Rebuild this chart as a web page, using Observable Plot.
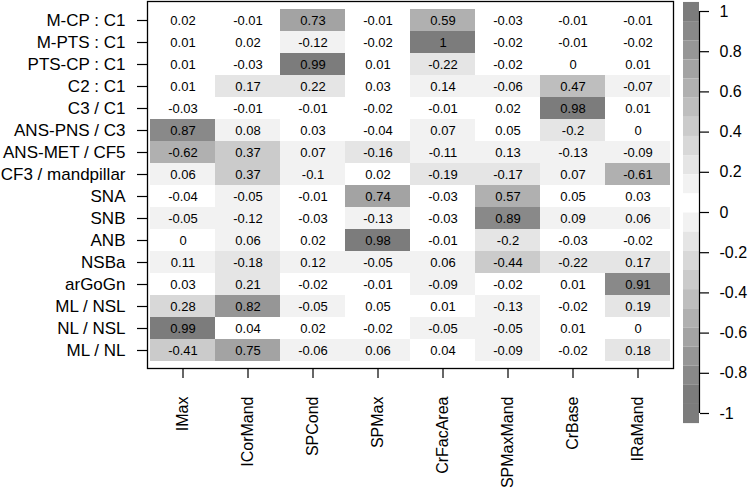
<!DOCTYPE html>
<html>
<head>
<meta charset="utf-8">
<script src="https://cdn.jsdelivr.net/npm/d3@7"></script>
<script src="https://cdn.jsdelivr.net/npm/@observablehq/plot@0.6"></script>
<style>
  html, body { margin: 0; padding: 0; background: white; }
  #wrap { position: relative; width: 749px; height: 488px; overflow: hidden; }
  #legend { position: absolute; left: 683px; top: 0px; }
  #main { position: absolute; left: 0; top: 0; }
</style>
</head>
<body>
<div id="wrap"><div id="main"></div><div id="legend"></div></div>
<script>
// ---- data ----
const rows = ["M-CP : C1", "M-PTS : C1", "PTS-CP : C1", "C2 : C1", "C3 / C1", "ANS-PNS / C3",
  "ANS-MET / CF5", "CF3 / mandpillar", "SNA", "SNB", "ANB", "NSBa", "arGoGn", "ML / NSL", "NL / NSL", "ML / NL"];
const cols = ["IMax", "ICorMand", "SPCond", "SPMax", "CrFacArea", "SPMaxMand", "CrBase", "IRaMand"];

const IMax      = [0.02, 0.01, 0.01, 0.01, -0.03, 0.87, -0.62, 0.06, -0.04, -0.05, 0, 0.11, 0.03, 0.28, 0.99, -0.41];
const ICorMand  = [-0.01, 0.02, -0.03, 0.17, -0.01, 0.08, 0.37, 0.37, -0.05, -0.12, 0.06, -0.18, 0.21, 0.82, 0.04, 0.75];
const SPCond    = [0.73, -0.12, 0.99, 0.22, -0.01, 0.03, 0.07, -0.1, -0.01, -0.03, 0.02, 0.12, -0.02, -0.05, 0.02, -0.06];
const SPMax     = [-0.01, -0.02, 0.01, 0.03, -0.02, -0.04, -0.16, 0.02, 0.74, -0.13, 0.98, -0.05, -0.01, 0.05, -0.02, 0.06];
const CrFacArea = [0.59, 1, -0.22, 0.14, -0.01, 0.07, -0.11, -0.19, -0.03, -0.03, -0.01, 0.06, -0.09, 0.01, -0.05, 0.04];
const SPMaxMand = [-0.03, -0.02, -0.02, -0.06, 0.02, 0.05, 0.13, -0.17, 0.57, 0.89, -0.2, -0.44, -0.02, -0.13, -0.05, -0.09];
const CrBase    = [-0.01, -0.01, 0, 0.47, 0.98, -0.2, -0.13, 0.07, 0.05, 0.09, -0.03, -0.22, 0.01, -0.02, 0.01, -0.02];
const IRaMand   = [-0.01, -0.02, 0.01, -0.07, 0.01, 0, -0.09, -0.61, 0.03, 0.06, -0.02, 0.17, 0.91, 0.19, 0, 0.18];

const legendTicks = [1, 0.8, 0.6, 0.4, 0.2, 0, -0.2, -0.4, -0.6, -0.8, -1];

// ---- build table ----
const series = [IMax, ICorMand, SPCond, SPMax, CrFacArea, SPMaxMand, CrBase, IRaMand];
const data = [];
cols.forEach((c, j) => rows.forEach((r, i) => data.push({row: r, col: c, v: series[j][i]})));

// grey ramp: white at 0, grey50 at |r| = 1, in steps of 0.1
const thresholds = [];
for (let k = 9; k >= 0; k--) thresholds.push(-(k / 10 + 0.0499));
for (let k = 0; k <= 9; k++) thresholds.push(k / 10 + 0.0501);
const grays = [];
for (let k = 10; k >= 0; k--) grays.push(d3.interpolateRgb("#ffffff", "#7c7c7c")(k / 10));
for (let k = 1; k <= 10; k++) grays.push(d3.interpolateRgb("#ffffff", "#7c7c7c")(k / 10));
const colorScale = {type: "threshold", domain: thresholds, range: grays};

const font = "'Liberation Sans', Arial, Helvetica, sans-serif";

const main = Plot.plot({
  width: 749, height: 488,
  marginLeft: 147, marginRight: 76, marginTop: 1, marginBottom: 120,
  style: {fontFamily: font, background: "white", color: "black"},
  x: {domain: cols, padding: 0, axis: null, label: null},
  y: {domain: rows, padding: 0, axis: null, label: null},
  color: colorScale,
  marks: [
    Plot.cell(data, {x: "col", y: "row", fill: "v", inset: 0}),
    Plot.text(data, {x: "col", y: "row", text: d => String(d.v), fontSize: 13, fill: "black"}),
    Plot.frame({stroke: "black", strokeWidth: 1.3}),
    Plot.axisX({anchor: "bottom", tickRotate: -90, tickSize: 10, tickPadding: 18, fontSize: 16, label: null, strokeWidth: 1.2}),
    Plot.axisY({anchor: "left", tickSize: 10, tickPadding: 12, fontSize: 17, label: null, strokeWidth: 1.2})
  ]
});
document.getElementById("main").appendChild(main);

// ---- legend (colour bar) ----
const levels = [1, 0.9, 0.8, 0.7, 0.6, 0.5, 0.4, 0.3, 0.2, 0.1, 0, -0.1, -0.2, -0.3, -0.4, -0.5, -0.6, -0.7, -0.8, -0.9, -1, -1];
const barTop = 1.045, barStep = 2 / 21;
const bands = levels.map((lv, i) => ({lv, y1: barTop - i * barStep, y2: barTop - (i + 1) * barStep}));

const legend = Plot.plot({
  width: 66, height: 430,
  marginLeft: 0, marginRight: 50, marginTop: 0, marginBottom: 0,
  style: {fontFamily: font, background: "transparent", color: "black"},
  x: {domain: [0, 1], range: [0, 16], axis: null},
  y: {domain: [-1, 1], range: [413, 11], axis: null},
  color: colorScale,
  marks: [
    Plot.rect(bands, {x1: 0, x2: 1, y1: "y1", y2: "y2", fill: "lv"}),
    Plot.ruleX([1], {x: d => d, y1: -1, y2: 1, stroke: "black", strokeWidth: 1.2}),
    Plot.axisY({anchor: "right", ticks: legendTicks, tickSize: 9, tickPadding: 11, fontSize: 16,
      tickFormat: d => String(d), label: null, strokeWidth: 1.2})
  ]
});
document.getElementById("legend").appendChild(legend);
</script>
</body>
</html>
